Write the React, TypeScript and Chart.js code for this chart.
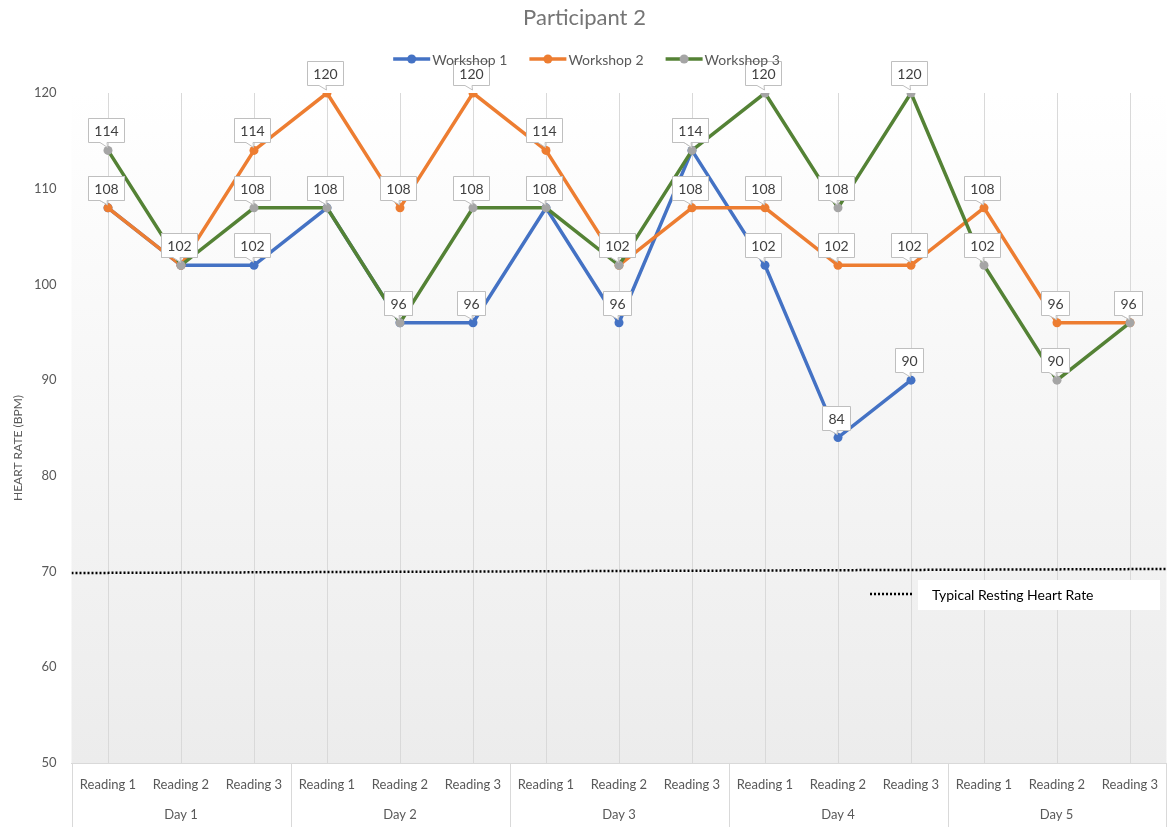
import { useEffect, useRef } from 'react';
import { Chart, registerables } from 'chart.js';

Chart.register(...registerables);

const chartTitle = 'Participant 2';
const yAxisTitle = 'HEART RATE (BPM)';
const days = ['Day 1', 'Day 2', 'Day 3', 'Day 4', 'Day 5'];
const readings = ['Reading 1', 'Reading 2', 'Reading 3'];
const readingLabels = days.flatMap(() => readings);
const seriesNames = ['Workshop 1', 'Workshop 2', 'Workshop 3'];
const workshop1 = [108, 102, 102, 108, 96, 96, 108, 96, 114, 102, 84, 90, null, null, null];
const workshop2 = [108, 102, 114, 120, 108, 120, 114, 102, 108, 108, 102, 102, 108, 96, 96];
const workshop3 = [114, 102, 108, 108, 96, 108, 108, 102, 114, 120, 108, 120, 102, 90, 96];
const restingName = 'Typical Resting Heart Rate';
const restingX = [0, 1];
const restingY = [69.85, 70.27];
const yMin = 50;
const yMax = 120;
const yStep = 10;

const lineColors = ['#4472C4', '#ED7D31', '#548235'];
const markerColors = ['#4472C4', '#ED7D31', '#A5A5A5'];
const FONT = 'Lato, "Open Sans", sans-serif';
const W = 1167;
const H = 827;
const CANVAS_W = 1171;

const backgroundPlugin = {
  id: 'plotBackground',
  beforeDraw(chart: any) {
    const { ctx, chartArea } = chart;
    const g = ctx.createLinearGradient(0, chartArea.top, 0, chartArea.bottom);
    g.addColorStop(0, '#ffffff');
    g.addColorStop(1, '#ececec');
    ctx.save();
    ctx.fillStyle = '#ffffff';
    ctx.fillRect(0, 0, chart.width, chart.height);
    ctx.fillStyle = g;
    ctx.fillRect(chartArea.left, chartArea.top, chartArea.right - chartArea.left, chartArea.bottom - chartArea.top);
    ctx.restore();
  },
};

const labelPlugin = {
  id: 'calloutLabels',
  afterDatasetsDraw(chart: any) {
    const ctx = chart.ctx;
    ctx.save();
    ctx.font = `14px ${FONT}`;
    ctx.textAlign = 'center';
    ctx.textBaseline = 'middle';
    for (let di = 0; di < 3; di++) {
      const meta = chart.getDatasetMeta(di);
      const data = chart.data.datasets[di].data;
      meta.data.forEach((pt: any, i: number) => {
        const v = data[i];
        if (v === null || v === undefined) return;
        const text = String(v);
        const tw = ctx.measureText(text).width;
        const w = Math.round(tw + 12);
        const h = 24;
        const cx = Math.round(pt.x - 2);
        const bottom = Math.round(pt.y - 8) + 0.5;
        const top = bottom - h;
        const left = Math.round(cx - w / 2) + 0.5;
        const right = left + w;
        ctx.beginPath();
        ctx.moveTo(left, top);
        ctx.lineTo(right, top);
        ctx.lineTo(right, bottom);
        ctx.lineTo(cx + 1, bottom);
        ctx.lineTo(pt.x - 0.5, pt.y - 3);
        ctx.lineTo(cx - 6, bottom);
        ctx.lineTo(left, bottom);
        ctx.closePath();
        ctx.fillStyle = '#ffffff';
        ctx.fill();
        ctx.strokeStyle = '#bfbfbf';
        ctx.lineWidth = 1;
        ctx.stroke();
        ctx.fillStyle = '#404040';
        ctx.fillText(text, cx + 0.5, (top + bottom) / 2 + 0.5);
      });
    }
    ctx.restore();
  },
};

const decorPlugin = {
  id: 'decor',
  afterDraw(chart: any) {
    const { ctx, chartArea, scales } = chart;
    const x = scales.x;
    ctx.save();
    // title
    ctx.fillStyle = '#757575';
    ctx.font = `22px ${FONT}`;
    ctx.textAlign = 'center';
    ctx.textBaseline = 'middle';
    ctx.fillText(chartTitle, W / 2 + 1, 18);

    // y title
    ctx.save();
    ctx.translate(18, 448);
    ctx.rotate(-Math.PI / 2);
    ctx.font = `12px ${FONT}`;
    ctx.fillStyle = '#595959';
    ctx.fillText(yAxisTitle, 0, 0);
    ctx.restore();

    // reading tick labels
    ctx.font = `13px ${FONT}`;
    ctx.fillStyle = '#595959';
    readingLabels.forEach((r, i) => {
      ctx.fillText(r, x.getPixelForValue(i), 785);
    });

    // day group labels and separators
    ctx.strokeStyle = '#d9d9d9';
    ctx.lineWidth = 1;
    const bounds: number[] = [];
    for (let d = 0; d <= days.length; d++) {
      let bx: number;
      if (d === 0) bx = chartArea.left;
      else if (d === days.length) bx = chartArea.right - 1;
      else bx = (x.getPixelForValue(d * 3 - 1) + x.getPixelForValue(d * 3)) / 2;
      bounds.push(bx);
      const px = Math.round(bx) + 0.5;
      ctx.beginPath();
      ctx.moveTo(px, chartArea.bottom);
      ctx.lineTo(px, H);
      ctx.stroke();
    }
    days.forEach((d, i) => {
      ctx.fillText(d, (bounds[i] + bounds[i + 1]) / 2, 815);
    });

    // series legend
    ctx.font = `14px ${FONT}`;
    ctx.textAlign = 'left';
    const lineLen = 37;
    const gap = 2;
    const itemGap = 22;
    const widths = seriesNames.map((n) => ctx.measureText(n).width);
    const total = widths.reduce((a, b) => a + b, 0) + seriesNames.length * (lineLen + gap) + itemGap * (seriesNames.length - 1);
    let lx = (W - total) / 2 + 3;
    const ly = 59;
    seriesNames.forEach((n, i) => {
      ctx.strokeStyle = lineColors[i];
      ctx.lineWidth = 3.5;
      ctx.beginPath();
      ctx.moveTo(lx, ly);
      ctx.lineTo(lx + lineLen, ly);
      ctx.stroke();
      ctx.fillStyle = markerColors[i];
      ctx.beginPath();
      ctx.arc(lx + lineLen / 2, ly, 4.5, 0, Math.PI * 2);
      ctx.fill();
      ctx.fillStyle = '#595959';
      ctx.fillText(n, lx + lineLen + gap, ly + 1);
      lx += lineLen + gap + widths[i] + itemGap;
    });

    // resting legend
    ctx.fillStyle = '#ffffff';
    ctx.fillRect(918, 580, 242, 30);
    ctx.strokeStyle = '#000000';
    ctx.lineWidth = 2.5;
    ctx.setLineDash([2, 2]);
    ctx.beginPath();
    ctx.moveTo(870, 594);
    ctx.lineTo(912, 594);
    ctx.stroke();
    ctx.setLineDash([]);
    ctx.fillStyle = '#000000';
    ctx.font = `14px ${FONT}`;
    ctx.fillText(restingName, 932, 595);
    ctx.restore();
  },
};

export default function App() {
  const ref = useRef<HTMLCanvasElement>(null);
  useEffect(() => {
    if (!ref.current) return;
    const mk = (i: number, data: (number | null)[], order: number) => ({
      label: seriesNames[i],
      data,
      borderColor: lineColors[i],
      backgroundColor: markerColors[i],
      pointBackgroundColor: markerColors[i],
      pointBorderColor: markerColors[i],
      pointBorderWidth: 0,
      pointRadius: 4.5,
      borderWidth: 3.5,
      tension: 0,
      spanGaps: false,
      order,
      xAxisID: 'x',
      yAxisID: 'y',
    });
    const chart = new Chart(ref.current, {
      type: 'line',
      data: {
        labels: readingLabels,
        datasets: [
          mk(0, workshop1, 2),
          mk(1, workshop2, 1),
          mk(2, workshop3, 0),
          {
            label: restingName,
            data: restingX.map((xv, i) => ({ x: xv, y: restingY[i] })),
            borderColor: '#000000',
            borderWidth: 2.5,
            borderDash: [2, 2],
            pointRadius: 0,
            order: 3,
            xAxisID: 'x2',
            yAxisID: 'y',
          } as any,
        ],
      },
      options: {
        responsive: false,
        devicePixelRatio: 1,
        animation: false,
        events: [],
        layout: { padding: { top: 93, left: 0, right: 0.5, bottom: 0 } },
        plugins: {
          legend: { display: false },
          title: { display: false },
          tooltip: { enabled: false },
        },
        scales: {
          x: {
            type: 'category',
            offset: true,
            grid: { display: true, color: '#d9d9d9', drawTicks: false, offset: false, lineWidth: 1 },
            border: { display: true, color: '#d9d9d9', width: 1 },
            ticks: { display: false, autoSkip: false },
            afterFit(scale: any) {
              scale.height = 64;
              scale.paddingLeft = 0;
              scale.paddingRight = 0;
            },
          },
          x2: {
            type: 'linear',
            display: false,
            min: 0,
            max: 1,
          },
          y: {
            type: 'linear',
            min: yMin,
            max: yMax,
            grid: { display: false, drawTicks: false },
            border: { display: false },
            ticks: {
              stepSize: yStep,
              padding: 15,
              color: '#595959',
              font: { family: FONT, size: 13 },
            },
            afterFit(scale: any) {
              scale.width = 71.5;
            },
          },
        },
      },
      plugins: [backgroundPlugin, labelPlugin, decorPlugin],
    });
    return () => chart.destroy();
  }, []);
  return (
    <div style={{ position: 'absolute', left: 0, top: 0, width: W, height: H, overflow: 'hidden' }}>
      <canvas ref={ref} width={CANVAS_W} height={H} style={{ display: 'block' }} />
    </div>
  );
}
